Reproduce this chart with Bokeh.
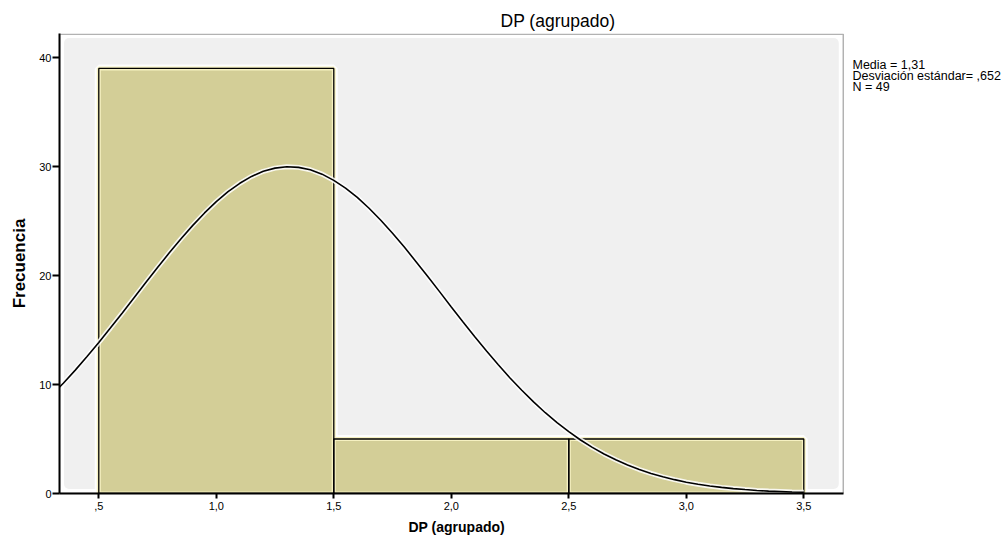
from bokeh.plotting import figure
from bokeh.models import Range1d, FixedTicker, Label, BoxAnnotation, Title
from bokeh.embed import file_html
from bokeh.resources import INLINE

# ---- data ----
bin_left = [0.5, 1.5, 2.5]
bin_right = [1.5, 2.5, 3.5]
counts = [39, 5, 5]

curve_x = [0.30, 0.35, 0.40, 0.45, 0.50, 0.55, 0.60, 0.65, 0.70, 0.75, 0.80, 0.85,
           0.90, 0.95, 1.00, 1.05, 1.10, 1.15, 1.20, 1.25, 1.30, 1.35, 1.40, 1.45,
           1.50, 1.55, 1.60, 1.65, 1.70, 1.75, 1.80, 1.85, 1.90, 1.95, 2.00, 2.05,
           2.10, 2.15, 2.20, 2.25, 2.30, 2.35, 2.40, 2.45, 2.50, 2.55, 2.60, 2.65,
           2.70, 2.75, 2.80, 2.85, 2.90, 2.95, 3.00, 3.05, 3.10, 3.15, 3.20, 3.25,
           3.30, 3.35, 3.40, 3.45, 3.50]
curve_y = [9.03, 10.14, 11.32, 12.56, 13.86, 15.20, 16.57, 17.96, 19.35, 20.73, 22.08, 23.38,
           24.60, 25.74, 26.78, 27.69, 28.46, 29.09, 29.56, 29.85, 29.98, 29.92, 29.70, 29.30,
           28.73, 28.02, 27.16, 26.17, 25.07, 23.88, 22.61, 21.27, 19.91, 18.52, 17.12, 15.74,
           14.39, 13.07, 11.81, 10.60, 9.47, 8.40, 7.41, 6.50, 5.67, 4.91, 4.23, 3.63,
           3.09, 2.62, 2.20, 1.84, 1.53, 1.27, 1.04, 0.85, 0.69, 0.56, 0.45, 0.36,
           0.28, 0.22, 0.18, 0.14, 0.11]

x_ticks = [0.5, 1.0, 1.5, 2.0, 2.5, 3.0, 3.5]
x_tick_labels = [",5", "1,0", "1,5", "2,0", "2,5", "3,0", "3,5"]
y_ticks = [0, 10, 20, 30, 40]

title_text = "DP (agrupado)"
x_label = "DP (agrupado)"
y_label = "Frecuencia"
stats_lines = ["Media = 1,31", "Desviación estándar= ,652", "N = 49"]

FONT = "Liberation Sans"

# ---- geometry (pixels) ----
W, H = 1003, 544
LEFT, TOP, BOTTOM = 59, 33, 51
FRAME_W, FRAME_H = W - LEFT, H - TOP - BOTTOM
PX_X, PX_Y = 235.0, 10.9            # pixels per data unit
X0 = 0.3328                         # data x at frame's left edge
X_BOX_END = 3.668                   # right edge of the plot box
Y_BOX_END = FRAME_H / PX_Y          # top of the plot box = frame top
INSET_X, INSET_Y = 4.5 / PX_X, 4.5 / PX_Y

p = figure(width=W, height=H,
           x_range=Range1d(X0, X0 + FRAME_W / PX_X), y_range=Range1d(0, Y_BOX_END),
           output_backend="svg", toolbar_location=None,
           min_border_left=LEFT, min_border_right=0,
           min_border_top=TOP, min_border_bottom=BOTTOM)

p.background_fill_color = "white"
p.border_fill_color = "white"
p.outline_line_color = None
p.grid.visible = False

# title (above)
p.title.text = title_text
p.title.align = "left"
p.title.offset = 441
p.title.text_font = FONT
p.title.text_font_size = "17.5px"
p.title.text_font_style = "normal"
p.title.text_color = "black"
p.title.standoff = 6

# gray plot area with white inner margin
p.add_layout(BoxAnnotation(left=X0 + INSET_X, right=X_BOX_END - INSET_X,
                           bottom=INSET_Y, top=Y_BOX_END - INSET_Y,
                           fill_color="#f0f0f0", fill_alpha=1, line_color=None,
                           border_radius=5, level="underlay"))
# box outline (top / right)
p.add_layout(BoxAnnotation(left=X0, right=X_BOX_END, bottom=0, top=Y_BOX_END - 0.8 / PX_Y,
                           fill_alpha=0, line_color="black", line_width=1.5,
                           level="overlay"))

# bars: glow, fill, outline
p.quad(left=bin_left, right=bin_right, bottom=0, top=counts,
       fill_alpha=0, line_color="white", line_width=8, line_alpha=0.9)
p.quad(left=bin_left, right=bin_right, bottom=0, top=counts,
       fill_color="#d3ce97", line_color="#f6f1c2", line_width=4)
p.quad(left=bin_left, right=bin_right, bottom=0, top=counts,
       fill_alpha=0, line_color="black", line_width=1.3)

# normal curve with glow
p.line(curve_x, curve_y, line_color="white", line_width=5, line_alpha=0.85)
p.line(curve_x, curve_y, line_color="black", line_width=1.6)

# axes
for ax in (p.xaxis, p.yaxis):
    ax.axis_line_color = "black"
    ax.axis_line_width = 2
    ax.major_tick_line_color = "black"
    ax.major_tick_line_width = 2
    ax.major_tick_in = 0
    ax.minor_tick_line_color = None
    ax.major_label_text_font = FONT
    ax.major_label_text_font_size = "11px"
    ax.major_label_text_color = "black"
    ax.axis_label_text_font = FONT
    ax.axis_label_text_font_style = "bold"
    ax.axis_label_text_color = "black"

p.xaxis.bounds = (X0, X_BOX_END)
p.xaxis.ticker = FixedTicker(ticks=x_ticks)
p.xaxis.major_label_overrides = {t: l for t, l in zip(x_ticks, x_tick_labels)}
p.xaxis.major_tick_out = 5
p.xaxis.major_label_standoff = 3

# x axis label as a below-title so it can be centred on the plot box
p.add_layout(Title(text=x_label, align="left", offset=349, standoff=9,
                   text_font=FONT, text_font_size="14px", text_font_style="bold",
                   text_color="black"), "below")

p.yaxis.bounds = (0, Y_BOX_END)
p.yaxis.ticker = FixedTicker(ticks=y_ticks)
p.yaxis.major_tick_out = 7
p.yaxis.major_label_standoff = 1
p.yaxis.axis_label = y_label
p.yaxis.axis_label_text_font_size = "17px"
p.yaxis.axis_label_standoff = 7

# stats text
for i, s in enumerate(stats_lines):
    p.add_layout(Label(x=793, y=428.5 - 11 * i, x_units="screen", y_units="screen", text=s,
                       text_align="left", text_baseline="middle",
                       text_font=FONT, text_font_size="12.5px", text_color="black"))

open("out.html", "w").write(file_html(p, INLINE))
